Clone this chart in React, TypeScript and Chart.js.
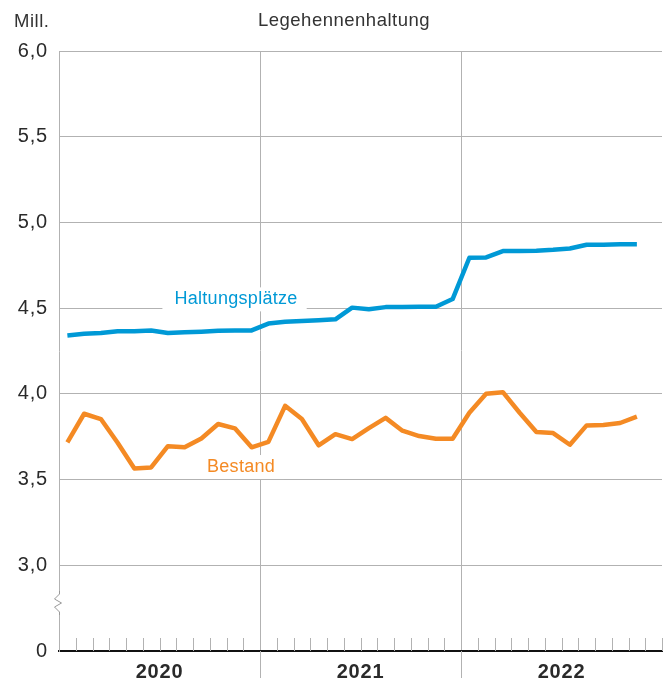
import { useEffect, useRef } from 'react';
import { Chart, registerables } from 'chart.js';

Chart.register(...registerables);

// Monthly observations, Jan 2020 – Nov 2022
const months = [
  '2020-01', '2020-02', '2020-03', '2020-04', '2020-05', '2020-06', '2020-07', '2020-08', '2020-09', '2020-10', '2020-11', '2020-12',
  '2021-01', '2021-02', '2021-03', '2021-04', '2021-05', '2021-06', '2021-07', '2021-08', '2021-09', '2021-10', '2021-11', '2021-12',
  '2022-01', '2022-02', '2022-03', '2022-04', '2022-05', '2022-06', '2022-07', '2022-08', '2022-09', '2022-10', '2022-11',
];
const years = ['2020', '2021', '2022'];

const haltungsplaetze = [
  4.34, 4.35, 4.355, 4.365, 4.365, 4.37, 4.355, 4.36, 4.363, 4.368, 4.37, 4.37,
  4.41, 4.42, 4.425, 4.43, 4.435, 4.503, 4.493, 4.506, 4.507, 4.508, 4.508, 4.553,
  4.794, 4.796, 4.833, 4.833, 4.835, 4.84, 4.848, 4.87, 4.87, 4.872, 4.872,
];
const bestand = [
  3.717, 3.884, 3.853, 3.715, 3.565, 3.571, 3.695, 3.688, 3.74, 3.824, 3.799, 3.688,
  3.72, 3.93, 3.853, 3.70, 3.765, 3.736, 3.80, 3.86, 3.785, 3.754, 3.738, 3.738,
  3.89, 4.0, 4.01, 3.89, 3.777, 3.771, 3.703, 3.816, 3.818, 3.83, 3.867,
];
const yTickValues = [2.5, 3.0, 3.5, 4.0, 4.5, 5.0, 5.5, 6.0];
const yTickLabels = ['0', '3,0', '3,5', '4,0', '4,5', '5,0', '5,5', '6,0'];

const seriesNames = ['Haltungsplätze', 'Bestand'];
const title = 'Legehennenhaltung';
const unit = 'Mill.';

const BLUE = '#0099D6';
const ORANGE = '#F48A24';
const GRID = '#b2b2b2';
const TEXT = '#2a2a2a';
const FONT = '"Liberation Sans", Arial, sans-serif';

const toPoints = (arr: number[]) => arr.map((v, i) => ({ x: i + 0.5, y: v }));

const decorPlugin = {
  id: 'decor',
  beforeDraw(chart: any) {
    chart.ctx.letterSpacing = '0.8px';
  },
  beforeDatasetsDraw(chart: any) {
    const { ctx, chartArea, scales } = chart;
    const xs = scales.x;
    const ys = scales.y;
    ctx.save();
    ctx.strokeStyle = GRID;
    ctx.lineWidth = 1;
    // monthly ticks inside plot bottom, year line extensions below
    for (let i = 1; i <= months.length + 1; i++) {
      const px = Math.round(xs.getPixelForValue(i)) + 0.5;
      ctx.beginPath();
      if (i % 12 === 0 && i < 36) {
        ctx.moveTo(px, chartArea.bottom);
        ctx.lineTo(px, chartArea.bottom + 27);
      } else {
        ctx.moveTo(px, chartArea.bottom - 13);
        ctx.lineTo(px, chartArea.bottom);
      }
      ctx.stroke();
    }
    // axis break symbol
    const L = Math.round(chartArea.left) + 0.5;
    const c = Math.round(ys.getPixelForValue(2.78));
    ctx.fillStyle = '#fff';
    ctx.fillRect(L - 2, c - 9, 4, 18);
    ctx.strokeStyle = '#999';
    ctx.beginPath();
    ctx.moveTo(L, c - 12);
    ctx.lineTo(L, c - 9);
    ctx.lineTo(L - 5, c - 4);
    ctx.lineTo(L + 2, c + 0);
    ctx.lineTo(L - 5, c + 4);
    ctx.lineTo(L, c + 9);
    ctx.lineTo(L, c + 12);
    ctx.stroke();
    // series labels with white boxes
    const labels = [
      { text: seriesNames[0], x: 10.57, y: 4.522, color: BLUE, pad: [12, 9] },
      { text: seriesNames[1], x: 10.87, y: 3.544, color: ORANGE, pad: [6, 9] },
    ];
    ctx.font = `18px ${FONT}`;
    ctx.letterSpacing = '0.3px';
    ctx.textAlign = 'center';
    ctx.textBaseline = 'alphabetic';
    for (const l of labels) {
      const px = xs.getPixelForValue(l.x);
      const py = ys.getPixelForValue(l.y);
      const w = ctx.measureText(l.text).width;
      ctx.fillStyle = '#fff';
      ctx.fillRect(px - w / 2 - l.pad[0], py - 17, w + l.pad[0] + l.pad[1], 24);
      ctx.fillStyle = l.color;
      ctx.fillText(l.text, px, py);
    }
    ctx.restore();
  },
  afterDraw(chart: any) {
    const { ctx, chartArea } = chart;
    ctx.save();
    ctx.fillStyle = '#333';
    ctx.font = `18.5px ${FONT}`;
    ctx.letterSpacing = '0.5px';
    ctx.textBaseline = 'alphabetic';
    ctx.textAlign = 'left';
    ctx.fillText(unit, 14, 26.5);
    ctx.textAlign = 'center';
    ctx.fillText(title, chartArea.left + 285, 26);
    ctx.restore();
  },
};

export default function App() {
  const ref = useRef<HTMLCanvasElement | null>(null);
  useEffect(() => {
    if (!ref.current) return;
    const chart = new Chart(ref.current, {
      type: 'line',
      data: {
        datasets: [
          {
            label: seriesNames[0],
            data: toPoints(haltungsplaetze),
            borderColor: BLUE,
            borderWidth: 4.5,
            pointRadius: 0,
            tension: 0,
            borderJoinStyle: 'round',
          },
          {
            label: seriesNames[1],
            data: toPoints(bestand),
            borderColor: ORANGE,
            borderWidth: 4.5,
            pointRadius: 0,
            tension: 0,
            borderJoinStyle: 'round',
          },
        ],
      },
      options: {
        animation: false,
        responsive: false,
        maintainAspectRatio: false,
        layout: { padding: { top: 51, right: 10, left: 0, bottom: 0 } },
        plugins: {
          legend: { display: false },
          title: { display: false },
          tooltip: { enabled: false },
        },
        scales: {
          x: {
            type: 'linear',
            min: 0,
            max: 36,
            afterFit: (s: any) => { s.height = 35; },
            afterBuildTicks: (s: any) => {
              s.ticks = Array.from({ length: 37 }, (_, i) => ({ value: i }));
            },
            ticks: {
              autoSkip: false,
              maxRotation: 0,
              padding: 9,
              color: TEXT,
              font: { family: FONT, size: 20, weight: 'bold' },
              callback: (v: any) => {
                const n = Number(v);
                if ((n - 6) % 12 === 0) return years[(n - 6) / 12] ?? '';
                return '';
              },
            },
            grid: {
              drawTicks: false,
              color: (c: any) => (c.tick && (c.tick.value === 12 || c.tick.value === 24) ? GRID : 'rgba(0,0,0,0)'),
              lineWidth: 1,
            },
            border: { display: true, color: '#111', width: 2 },
          },
          y: {
            type: 'linear',
            min: 2.5,
            max: 6.0,
            afterFit: (s: any) => { s.width = 59; },
            afterBuildTicks: (s: any) => {
              s.ticks = yTickValues.map((v) => ({ value: v }));
            },
            ticks: {
              padding: 11,
              color: TEXT,
              font: { family: FONT, size: 20 },
              callback: (v: any) => {
                const idx = yTickValues.findIndex((t) => Math.abs(t - Number(v)) < 1e-6);
                return idx >= 0 ? yTickLabels[idx] : '';
              },
            },
            grid: {
              drawTicks: false,
              color: (c: any) => (c.tick && c.tick.value === 2.5 ? 'rgba(0,0,0,0)' : GRID),
              lineWidth: 1,
            },
            border: { display: true, color: GRID, width: 1 },
          },
        },
      },
      plugins: [decorPlugin],
    } as any);
    return () => chart.destroy();
  }, []);

  return (
    <div style={{ position: 'absolute', left: 0, top: 0, width: 672, height: 686, background: '#fff' }}>
      <canvas ref={ref} width={672} height={686} style={{ width: 672, height: 686 }} />
    </div>
  );
}
